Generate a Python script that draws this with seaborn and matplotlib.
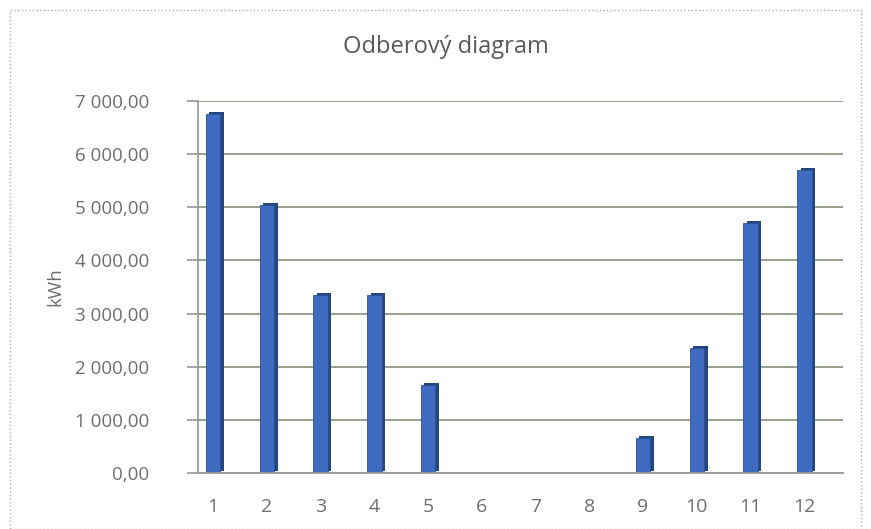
import matplotlib
matplotlib.use('Agg')
import matplotlib.pyplot as plt
import matplotlib.patheffects as pe
from matplotlib.patches import Rectangle
from matplotlib.ticker import FuncFormatter
import numpy as np
import pandas as pd
import seaborn as sns

# Data
months = ['1', '2', '3', '4', '5', '6', '7', '8', '9', '10', '11', '12']
kwh = [6750, 5050, 3350, 3350, 1650, 0, 0, 0, 650, 2350, 4700, 5700]

df = pd.DataFrame({'Mesiac': months, 'kWh': kwh})

sns.set_theme(style='white')
plt.rcParams['font.family'] = ['Open Sans', 'DejaVu Sans']

fig = plt.figure(figsize=(8.71, 5.29), dpi=100)
ax = fig.add_axes([198 / 871, 56 / 529, 645 / 871, 372 / 529])

sns.barplot(data=df, x='Mesiac', y='kWh', color='#3f6cc0', width=0.27,
            saturation=1, ax=ax, edgecolor='#2b4f93', linewidth=0.6)

# fake 3D depth on bars
for p in ax.patches:
    p.set_path_effects([pe.SimplePatchShadow(offset=(2.5, 1.5), shadow_rgbFace='#24477f', alpha=1.0),
                        pe.Normal()])

ax.set_ylim(0, 7000)
ax.set_yticks(np.arange(0, 7001, 1000))
ax.yaxis.set_major_formatter(FuncFormatter(lambda v, _: f'{v:,.2f}'.replace(',', ' ').replace('.', ',')))
ax.set_xlim(-0.28, 11.72)

ax.grid(axis='y', color='#8c9a84', linewidth=1.3)
ax.set_axisbelow(True)
for s in ['top', 'right']:
    ax.spines[s].set_visible(False)
ax.spines['left'].set_color('#9a9a9a')
ax.spines['bottom'].set_color('#9a9a9a')
ax.spines['bottom'].set_linewidth(1.3)
ax.tick_params(axis='y', left=True, length=8, color='#9a9a9a', labelsize=13.5, labelcolor='#6e6e6e', pad=27)
ax.tick_params(axis='x', bottom=False, labelsize=14, labelcolor='#6e6e6e', pad=12)

ax.set_xlabel('')
ax.set_ylabel('kWh', fontsize=13.5, color='#6e6e6e', labelpad=8)

fig.text(446 / 871, 1 - 47 / 529, 'Odberový diagram', ha='center', va='center',
         fontsize=17, color='#595959')

# chart border
fig.patches.append(Rectangle((10 / 871, 0), 851 / 871, 519 / 529, transform=fig.transFigure,
                             fill=False, edgecolor='#aaaaaa', linestyle=':', linewidth=1.0))

fig.savefig('out.png', dpi=100)
